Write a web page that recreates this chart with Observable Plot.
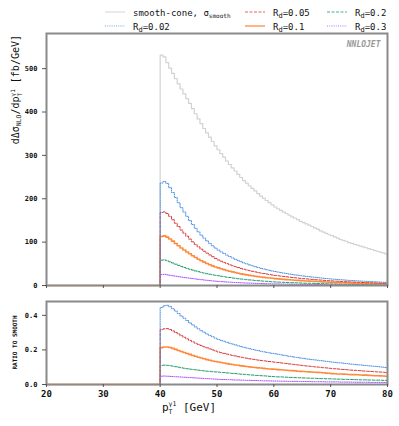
<!DOCTYPE html>
<html><head><meta charset="utf-8">
<script src="https://cdn.jsdelivr.net/npm/d3@7"></script>
<script src="https://cdn.jsdelivr.net/npm/@observablehq/plot@0.6"></script>
<style>
body{margin:0;background:#fff;font-family:"DejaVu Sans Mono",monospace;}
#wrap{position:relative;width:399px;height:426px;overflow:hidden;}
svg{display:block}
</style></head><body><div id="wrap"><div id="legend"></div><div id="top"></div><div id="bot"></div></div>
<script>
// bins: 0.5 GeV wide, from 40 to 80 GeV (below 40 GeV: zero)
const binStart = 40, binWidth = 0.5, xMin = 20, xMax = 80;
const xTicks = [20, 30, 40, 50, 60, 70, 80];
const yTicksTop = [0, 100, 200, 300, 400, 500];
const yTicksBot = [0, 0.2, 0.4];

const smooth = [531,527,514,501,489,477,465,453,442,431,
420,408,396,384,373,362,352,342,332,322,
313,304,296,287,279,271,264,256,249,242,
236,230,224,218,212,206,201,196,191,186,
181,177,173,169,166,162,158,155,152,148,
145,142,139,136,133,130,126,123,120,117,
115,112,109,106,104,102,99,97,95,93,
91,89,87,85,83,81,79,77,75,73];

const ratioRd002 = [.445,.455,.458,.450,.438,.425,.410,.396,.383,.370,
.356,.345,.333,.322,.311,.302,.292,.284,.276,.268,
.261,.255,.250,.244,.239,.234,.229,.224,.220,.215,
.211,.207,.203,.199,.196,.192,.189,.186,.183,.180,
.178,.175,.172,.169,.166,.163,.161,.158,.156,.153,
.151,.148,.146,.144,.142,.140,.138,.136,.134,.132,
.130,.128,.126,.125,.123,.121,.119,.118,.116,.114,
.113,.111,.110,.108,.107,.105,.104,.102,.100,.098];

const ratioRd005 = [.317,.322,.323,.318,.310,.301,.292,.282,.273,.264,
.255,.247,.239,.232,.225,.218,.212,.206,.200,.194,
.188,.184,.180,.176,.172,.168,.165,.161,.158,.155,
.152,.149,.146,.144,.141,.139,.137,.135,.133,.131,
.129,.127,.125,.123,.121,.119,.117,.115,.113,.111,
.109,.107,.106,.104,.102,.101,.099,.097,.096,.094,
.092,.091,.090,.088,.087,.086,.084,.083,.082,.081,
.080,.078,.077,.076,.075,.074,.073,.072,.071,.069];

const ratioRd01 = [.213,.217,.217,.214,.209,.203,.197,.191,.185,.179,
.174,.168,.163,.158,.153,.149,.144,.140,.136,.133,
.130,.127,.124,.121,.118,.116,.113,.111,.108,.106,
.104,.102,.100,.098,.096,.095,.093,.091,.090,.089,
.088,.086,.085,.084,.082,.081,.080,.079,.077,.076,
.075,.074,.073,.072,.071,.070,.069,.068,.066,.065,
.063,.062,.061,.061,.060,.059,.058,.057,.057,.056,
.055,.054,.054,.053,.052,.051,.051,.050,.049,.048];

const ratioRd02 = [.110,.112,.111,.109,.106,.103,.100,.097,.094,.091,
.089,.087,.085,.083,.081,.079,.077,.076,.074,.073,
.072,.070,.069,.067,.066,.064,.063,.061,.060,.059,
.057,.056,.055,.053,.052,.051,.050,.049,.047,.046,
.045,.044,.044,.043,.042,.041,.041,.040,.039,.039,
.038,.037,.037,.036,.036,.035,.034,.034,.033,.033,
.032,.032,.031,.031,.030,.030,.029,.029,.028,.028,
.027,.027,.027,.026,.026,.025,.025,.025,.024,.024];

const ratioRd03 = [.048,.049,.048,.047,.046,.045,.044,.043,.042,.041,
.040,.039,.038,.037,.036,.035,.034,.033,.032,.031,
.030,.029,.029,.028,.028,.027,.026,.026,.025,.025,
.024,.024,.023,.023,.022,.022,.021,.021,.021,.020,
.020,.020,.019,.019,.019,.018,.018,.018,.018,.017,
.017,.017,.017,.016,.016,.016,.016,.016,.015,.015,
.015,.015,.015,.014,.014,.014,.014,.014,.013,.013,
.013,.013,.013,.013,.012,.012,.012,.012,.012,.012];

const rdLabels = ["0.02", "0.05", "0.1", "0.2", "0.3"];
const rdRatios = [ratioRd002, ratioRd005, ratioRd01, ratioRd02, ratioRd03];
const rdColors = ["#4a8fe0", "#d83c3c", "#ff8a3d", "#1f9e6a", "#a94dff"];
const rdDash = ["1,1.2", "3,1.5", null, "3,1.5", "1,1.2"];
const rdWidth = [1, 1, 1.6, 1, 1];
const smoothColor = "#d2d2d2";

function toSteps(vals) {
  const pts = [{x: xMin, y: 0}];
  vals.forEach((y, i) => pts.push({x: binStart + i * binWidth, y}));
  pts.push({x: xMax, y: vals[vals.length - 1]});
  return pts;
}

const font = "DejaVu Sans Mono";
const frameColor = "#8a8a8a";

// ---------- top panel ----------
const topMarks = [
  Plot.line(toSteps(smooth), {x: "x", y: "y", curve: "step-after", stroke: smoothColor, strokeWidth: 1.2})
];
for (let k = rdRatios.length - 1; k >= 0; k--) {
  const vals = rdRatios[k].map((r, i) => r * smooth[i]);
  topMarks.push(Plot.line(toSteps(vals), {x: "x", y: "y", curve: "step-after", stroke: rdColors[k],
    strokeWidth: rdWidth[k], strokeDasharray: rdDash[k]}));
}
topMarks.push(Plot.frame({stroke: frameColor, strokeWidth: 2}));
topMarks.push(Plot.axisY({ticks: yTicksTop, tickSize: 4, tickPadding: 5, label: null,
  fontSize: 7, fontWeight: "bold", stroke: "#555", fill: "#111"}));
topMarks.push(Plot.axisX({ticks: xTicks, tickSize: 3, tickFormat: () => "", label: null, stroke: "#555"}));
topMarks.push(Plot.text(["NNLOJET"], {frameAnchor: "top-right", dx: -7, dy: 8, fill: "#999",
  fontSize: 8, fontWeight: "bold", fontStyle: "italic", textAnchor: "end"}));

const topPlot = Plot.plot({
  width: 399, height: 259, marginLeft: 46, marginRight: 12, marginTop: 1, marginBottom: 6,
  style: {fontFamily: font, background: "#fff"},
  x: {domain: [xMin, xMax]},
  y: {domain: [0, 581]},
  marks: topMarks
});
document.getElementById("top").appendChild(topPlot);

// y label (top)
const ts = d3.select(topPlot);
const yl = ts.append("text").attr("transform", "translate(19,3) rotate(-90)")
  .attr("text-anchor", "end").attr("font-family", font).attr("font-size", 10).attr("fill", "#111");
yl.append("tspan").text("dΔσ");
yl.append("tspan").attr("font-size", 6.5).attr("dy", 2).text("NLO");
yl.append("tspan").attr("dy", -2).text("/dp");
yl.append("tspan").attr("font-size", 6).attr("dy", 2.5).attr("dx", 0).text("T");
yl.append("tspan").attr("font-size", 6).attr("dy", -7).attr("dx", -3.6).text("γ1");
yl.append("tspan").attr("dy", 4.5).text(" [fb/GeV]");

// ---------- bottom panel ----------
const botMarks = [];
for (let k = rdRatios.length - 1; k >= 0; k--) {
  botMarks.push(Plot.line(toSteps(rdRatios[k]), {x: "x", y: "y", curve: "step-after", stroke: rdColors[k],
    strokeWidth: rdWidth[k], strokeDasharray: rdDash[k]}));
}
botMarks.push(Plot.frame({stroke: frameColor, strokeWidth: 2}));
botMarks.push(Plot.axisY({ticks: yTicksBot, tickFormat: d3.format(".1f"), tickSize: 4, tickPadding: 5, label: null,
  fontSize: 7, fontWeight: "bold", stroke: "#555", fill: "#111"}));
botMarks.push(Plot.axisX({ticks: xTicks, tickSize: 3, tickPadding: 3, label: null,
  fontSize: 9, fontWeight: "bold", stroke: "#555", fill: "#111"}));

const botPlot = Plot.plot({
  width: 399, height: 135, marginLeft: 46, marginRight: 12, marginTop: 10, marginBottom: 42,
  style: {fontFamily: font, background: "#fff"},
  x: {domain: [xMin, xMax]},
  y: {domain: [0, 0.48]},
  marks: botMarks
});
document.getElementById("bot").appendChild(botPlot);

const bs = d3.select(botPlot);
bs.append("text").attr("transform", "translate(17,51.5) rotate(-90)")
  .attr("text-anchor", "middle").attr("font-family", font).attr("font-size", 6).attr("font-weight", "bold")
  .attr("fill", "#111").text("RATIO TO SMOOTH");
const xl = bs.append("text").attr("x", 189).attr("y", 120)
  .attr("font-family", font).attr("font-size", 11).attr("fill", "#111");
xl.append("tspan").text("p");
xl.append("tspan").attr("font-size", 6.5).attr("dy", 2.5).text("T");
xl.append("tspan").attr("font-size", 6.5).attr("dy", -8).attr("dx", -4).text("γ1");
xl.append("tspan").attr("dy", 5.5).text(" [GeV]");

// ---------- legend ----------
const leg = d3.select("#legend").append("svg").attr("width", 399).attr("height", 32);
const legItems = [
  {col: 0, row: 0, color: smoothColor, dash: null, w: 1.2, main: "smooth-cone, σ", sub: "smooth", post: ""},
  {col: 0, row: 1, color: rdColors[0], dash: rdDash[0], w: 1, main: "R", sub: "d", post: "=" + rdLabels[0]},
  {col: 1, row: 0, color: rdColors[1], dash: rdDash[1], w: 1, main: "R", sub: "d", post: "=" + rdLabels[1]},
  {col: 1, row: 1, color: rdColors[2], dash: rdDash[2], w: 1.6, main: "R", sub: "d", post: "=" + rdLabels[2]},
  {col: 2, row: 0, color: rdColors[3], dash: rdDash[3], w: 1, main: "R", sub: "d", post: "=" + rdLabels[3]},
  {col: 2, row: 1, color: rdColors[4], dash: rdDash[4], w: 1, main: "R", sub: "d", post: "=" + rdLabels[4]}
];
const colX = [105, 245, 327];
const rowY = [12, 26];
legItems.forEach(it => {
  const x0 = colX[it.col], y0 = rowY[it.row];
  leg.append("line").attr("x1", x0).attr("x2", x0 + 20).attr("y1", y0).attr("y2", y0)
    .attr("stroke", it.color).attr("stroke-width", it.w).attr("stroke-opacity", 0.8)
    .attr("stroke-dasharray", it.dash);
  const t = leg.append("text").attr("x", x0 + 28).attr("y", y0 + 3.5)
    .attr("font-family", font).attr("font-size", 9).attr("fill", "#111");
  t.append("tspan").text(it.main);
  t.append("tspan").attr("font-size", it.sub === "d" ? 7 : 6).attr("dy", 2).text(it.sub);
  if (it.post) t.append("tspan").attr("dy", -2).text(it.post);
});
</script></body></html>
